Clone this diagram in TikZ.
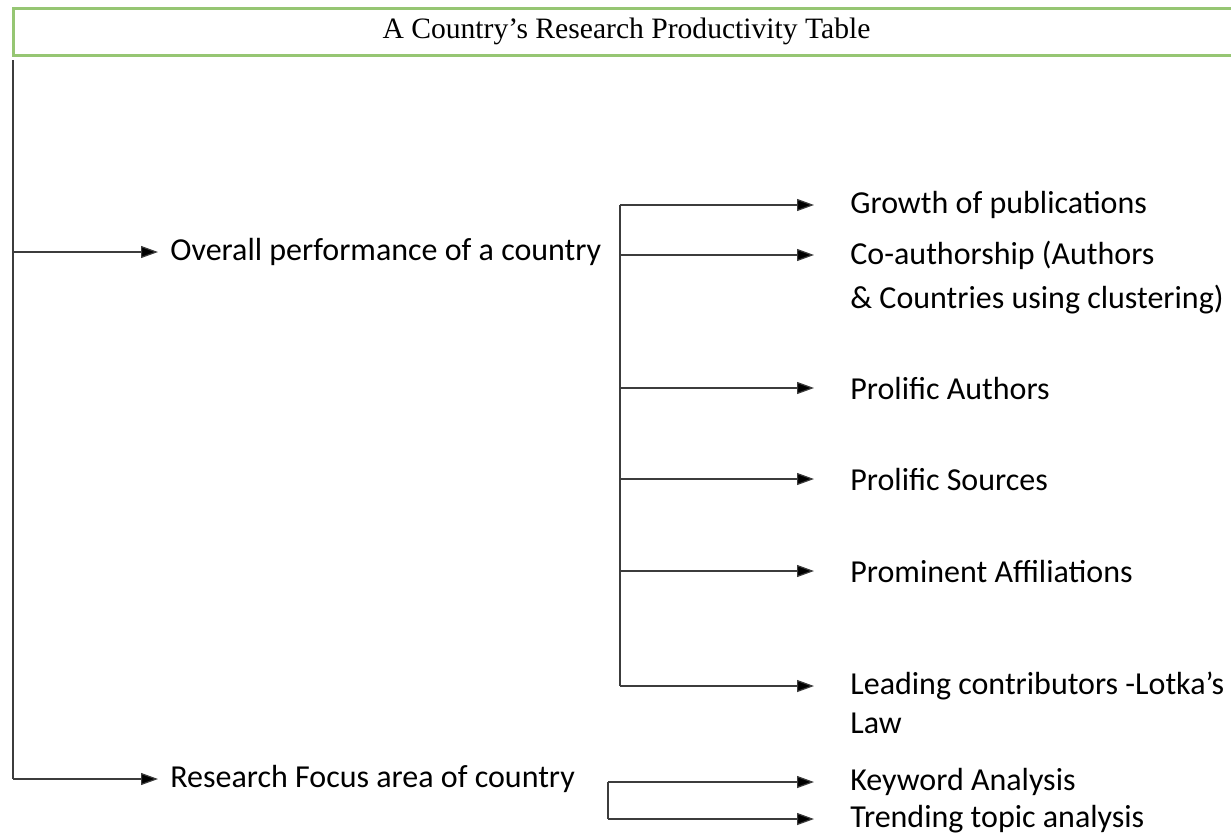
\documentclass[tikz,border=0pt]{standalone}
\usepackage{fontspec}
\setmainfont{Carlito}
\newfontfamily\titlefont{Liberation Serif}
\usetikzlibrary{arrows.meta,positioning}

\definecolor{boxgreen}{RGB}{150,198,115}
\definecolor{linegray}{RGB}{60,60,60}

\tikzset{
  trunk/.style={draw=linegray,line width=0.6pt},
  arr/.style={trunk,-{Triangle[length=8.5pt,width=6pt,fill=black]}},
  item/.style={anchor=west,inner sep=0pt,font=\fontsize{16}{19}\selectfont},
  lvlone/.style={item,inner xsep=6pt},
  lvltwo/.style={item,inner xsep=18pt},
}

\begin{document}
\begin{tikzpicture}[x=0.5pt,y=-0.5pt]
\clip (0,0) rectangle (1231,836);
\node[draw=boxgreen,line width=1.5pt,minimum width=613.5pt,minimum height=23.5pt,
  font=\titlefont\fontsize{14.8}{17}\selectfont] (title) at (626.5,31.5) {A Country’s Research Productivity Table};

% main branches
\coordinate (ltop) at (13,60);
\coordinate (lbot) at (13,779);
\node[lvlone] (overall) at (158,252) {Overall performance of a country};
\node[lvlone] (focus) at (158,779) {Research Focus area of country};
\draw[trunk] (ltop) -- (lbot);
\draw[arr] (ltop |- overall.west) -- (overall.west);
\draw[arr] (lbot) -- (focus.west);

% overall performance
\coordinate (mtop) at (620,205);
\coordinate (mbot) at (620,686);
\node[lvltwo] (growth) at (814,205) {Growth of publications};
\node[lvltwo] (coauth) at (814,255) {Co-authorship (Authors};
\node[item] (coauthb) at (850,300) {\& Countries using clustering)};
\node[lvltwo] (authors) at (814,388) {Prolific Authors};
\node[lvltwo] (sources) at (814,479) {Prolific Sources};
\node[lvltwo] (affil) at (814,571) {Prominent Affiliations};
\node[lvltwo] (lotka) at (814,686) {Leading contributors -Lotka’s};
\node[item] (lotkab) at (850,723) {Law};
\draw[trunk] (mtop) -- (mbot);
\foreach \n in {growth,coauth,authors,sources,affil,lotka}
  \draw[arr] (mtop |- \n.west) -- (\n.west);

% research focus
\coordinate (btop) at (608,782);
\coordinate (bbot) at (608,819);
\node[lvltwo] (keyword) at (814,782) {Keyword Analysis};
\node[lvltwo] (trending) at (814,819) {Trending topic analysis};
\draw[trunk] (btop) -- (bbot);
\draw[arr] (btop) -- (keyword.west);
\draw[arr] (bbot) -- (trending.west);
\end{tikzpicture}
\end{document}
